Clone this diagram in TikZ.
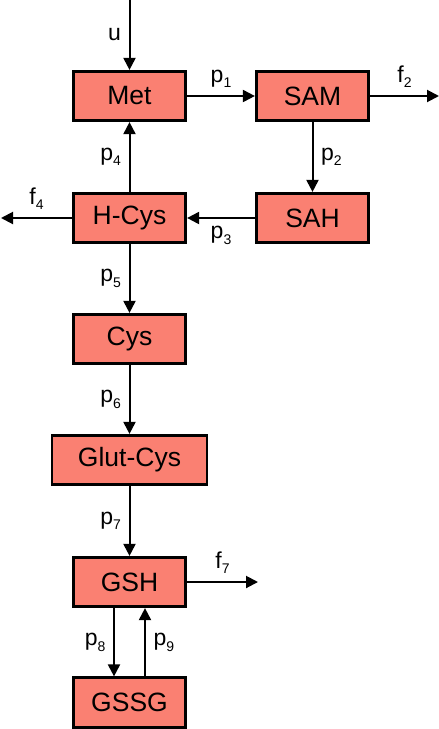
\documentclass[tikz,border=0pt]{standalone}
\usepackage{fontspec}
\setmainfont{Liberation Sans}
\usetikzlibrary{arrows.meta, positioning}
\definecolor{pool}{RGB}{250, 128, 114}
\newcommand{\rsub}[1]{\raisebox{-5.5pt}{\fontsize{14}{14}\selectfont #1}}

\begin{document}
\begin{tikzpicture}[x=1pt, y=-1pt,
    metab/.style={draw, line width=2.7pt, fill=pool, minimum width=112.5pt, minimum height=49.5pt, inner sep=0pt, font=\fontsize{26.5}{30}\selectfont},
    flux/.style={-{Triangle[length=12pt, width=12pt]}, line width=2pt},
    rate/.style={font=\fontsize{23}{27}\selectfont, inner sep=7.5pt}]
    \useasboundingbox (0,0) rectangle (439,729);

    % Metabolite pools
    \node[metab] (met) at (129.5, 96) {Met};
    \node[metab] (sam) at (312.5, 96) {SAM};
    \node[metab] (sah) at (312.5, 218) {SAH};
    \node[metab] (hcys) at (129.5, 218) {H-Cys};
    \node[metab] (cys) at (129.5, 339) {Cys};
    \node[metab, minimum width=155pt] (glutcys) at (129.5, 460) {Glut-Cys};
    \node[metab] (gsh) at (129.5, 582) {GSH};
    \node[metab] (gssg) at (129.5, 702.5) {GSSG};

    % Free ends of inflow and outflows
    \coordinate (uin) at (129.5, 0);
    \coordinate (f2out) at (439, 96);
    \coordinate (f4out) at (1, 218);
    \coordinate (f7out) at (258, 582);

    % Methionine cycle
    \draw[flux] (uin) -- node[rate, left] {u} (met);
    \draw[flux] (met) -- node[rate, above] {p\rsub{1}} (sam);
    \draw[flux] (sam) -- node[rate, above] {f\rsub{2}} (f2out);
    \draw[flux] (sam) -- node[rate, right] {p\rsub{2}} (sah);
    \draw[flux] (sah) -- node[rate, below] {p\rsub{3}} (hcys);
    \draw[flux] (hcys) -- node[rate, above] {f\rsub{4}} (f4out);
    \draw[flux] (hcys) -- node[rate, left] {p\rsub{4}} (met);

    % Transsulfuration and glutathione
    \draw[flux] (hcys) -- node[rate, left] {p\rsub{5}} (cys);
    \draw[flux] (cys) -- node[rate, left] {p\rsub{6}} (glutcys);
    \draw[flux] (glutcys) -- node[rate, left] {p\rsub{7}} (gsh);
    \draw[flux] (gsh) -- node[rate, above] {f\rsub{7}} (f7out);
    \draw[flux] ([xshift=-15.5pt]gsh.south) -- node[rate, left] {p\rsub{8}} ([xshift=-15.5pt]gssg.north);
    \draw[flux] ([xshift=15.5pt]gssg.north) -- node[rate, right] {p\rsub{9}} ([xshift=15.5pt]gsh.south);
\end{tikzpicture}
\end{document}
